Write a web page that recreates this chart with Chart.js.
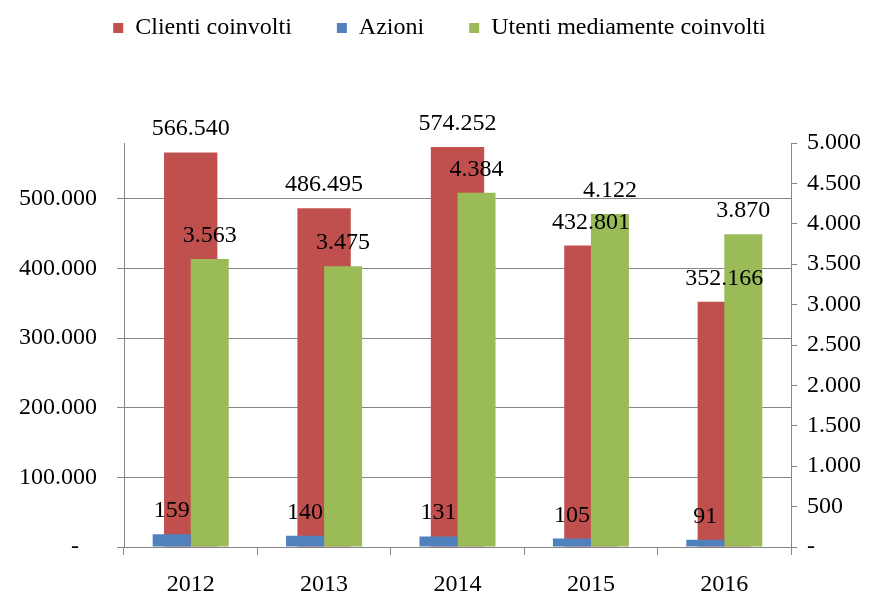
<!DOCTYPE html>
<html>
<head>
<meta charset="utf-8">
<script src="https://cdn.jsdelivr.net/npm/chart.js@4/dist/chart.umd.min.js"></script>
<style>
  body { margin: 0; background: #fff; }
  #wrap { width: 879px; height: 593px; position: relative; }
</style>
</head>
<body>
<div id="wrap"><canvas id="grafico"></canvas></div>
<script>
// dati
const anni = ['2012', '2013', '2014', '2015', '2016'];
const clienti = [566540, 486495, 574252, 432801, 352166];
const azioni = [159, 140, 131, 105, 91];
const utenti = [3563, 3475, 4384, 4122, 3870];

// tacche degli assi
const tickSinistra = [0, 100000, 200000, 300000, 400000, 500000];
const tickDestra = [0, 500, 1000, 1500, 2000, 2500, 3000, 3500, 4000, 4500, 5000];

const grigio = '#868686';

// formato italiano con punto per le migliaia, "-" per lo zero
function fmt(v) {
    if (v === 0) return '-';
    return String(v).replace(/\B(?=(\d{3})+(?!\d))/g, '.');
}

// spazio sotto la legenda
const legendGap = {
    id: 'legendGap',
    beforeInit(chart) {
        const fit = chart.legend.fit;
        chart.legend.fit = function () {
            fit.bind(chart.legend)();
            this.height = 172;
        };
    }
};

// etichette dei valori sopra le barre
const valori = {
    id: 'valori',
    afterDatasetsDraw(chart) {
        const ctx = chart.ctx;
        ctx.save();
        ctx.font = '24px "Liberation Serif"';
        ctx.fillStyle = '#000';
        ctx.textAlign = 'center';
        ctx.textBaseline = 'alphabetic';
        chart.data.datasets.forEach(function (ds, i) {
            const meta = chart.getDatasetMeta(i);
            meta.data.forEach(function (bar, j) {
                ctx.fillText(fmt(ds.data[j]), bar.x, bar.y - 17);
            });
        });
        ctx.restore();
    }
};

Chart.defaults.font.family = '"Liberation Serif", "Times New Roman", serif';
Chart.defaults.font.size = 24;
Chart.defaults.color = '#000';

new Chart(document.getElementById('grafico'), {
    type: 'bar',
    data: {
        labels: anni,
        datasets: [
            {
                label: 'Clienti coinvolti',
                data: clienti,
                backgroundColor: '#C0504D',
                yAxisID: 'y',
                grouped: false,
                categoryPercentage: 1,
                barPercentage: 0.4,
                order: 2
            },
            {
                label: 'Azioni',
                data: azioni,
                backgroundColor: '#4F81BD',
                yAxisID: 'y1',
                categoryPercentage: 0.57,
                barPercentage: 1,
                order: 1
            },
            {
                label: 'Utenti mediamente coinvolti',
                data: utenti,
                backgroundColor: '#9BBB59',
                yAxisID: 'y1',
                categoryPercentage: 0.57,
                barPercentage: 1,
                order: 1
            }
        ]
    },
    options: {
        responsive: true,
        maintainAspectRatio: false,
        animation: false,
        layout: { padding: { top: -29, left: 0, right: 0, bottom: 0 } },
        plugins: {
            legend: {
                position: 'top',
                labels: {
                    boxWidth: 10,
                    boxHeight: 10,
                    padding: 45,
                    color: '#000',
                    sort: function (a, b) { return a.datasetIndex - b.datasetIndex; }
                }
            },
            tooltip: { enabled: false }
        },
        scales: {
            x: {
                grid: { drawOnChartArea: false, color: grigio, tickLength: 8, offset: true },
                border: { color: grigio },
                ticks: { padding: 15, color: '#000' },
                afterFit: function (s) { s.height = 46; }
            },
            y: {
                position: 'left',
                min: 0,
                max: 580000,
                grid: { color: grigio, tickLength: 7 },
                border: { color: grigio },
                ticks: {
                    padding: 20,
                    color: '#000',
                    callback: function (v) { return v === 0 ? '-   ' : fmt(v); }
                },
                afterBuildTicks: function (s) {
                    s.ticks = tickSinistra.map(function (v) { return { value: v }; });
                },
                afterFit: function (s) { s.width = 124; }
            },
            y1: {
                position: 'right',
                min: 0,
                max: 5000,
                grid: { drawOnChartArea: false, color: grigio, tickLength: 6 },
                border: { color: grigio },
                ticks: {
                    padding: 10,
                    color: '#000',
                    callback: function (v) { return fmt(v); }
                },
                afterBuildTicks: function (s) {
                    s.ticks = tickDestra.map(function (v) { return { value: v }; });
                },
                afterFit: function (s) { s.width = 88; }
            }
        }
    },
    plugins: [legendGap, valori]
});
</script>
</body>
</html>
